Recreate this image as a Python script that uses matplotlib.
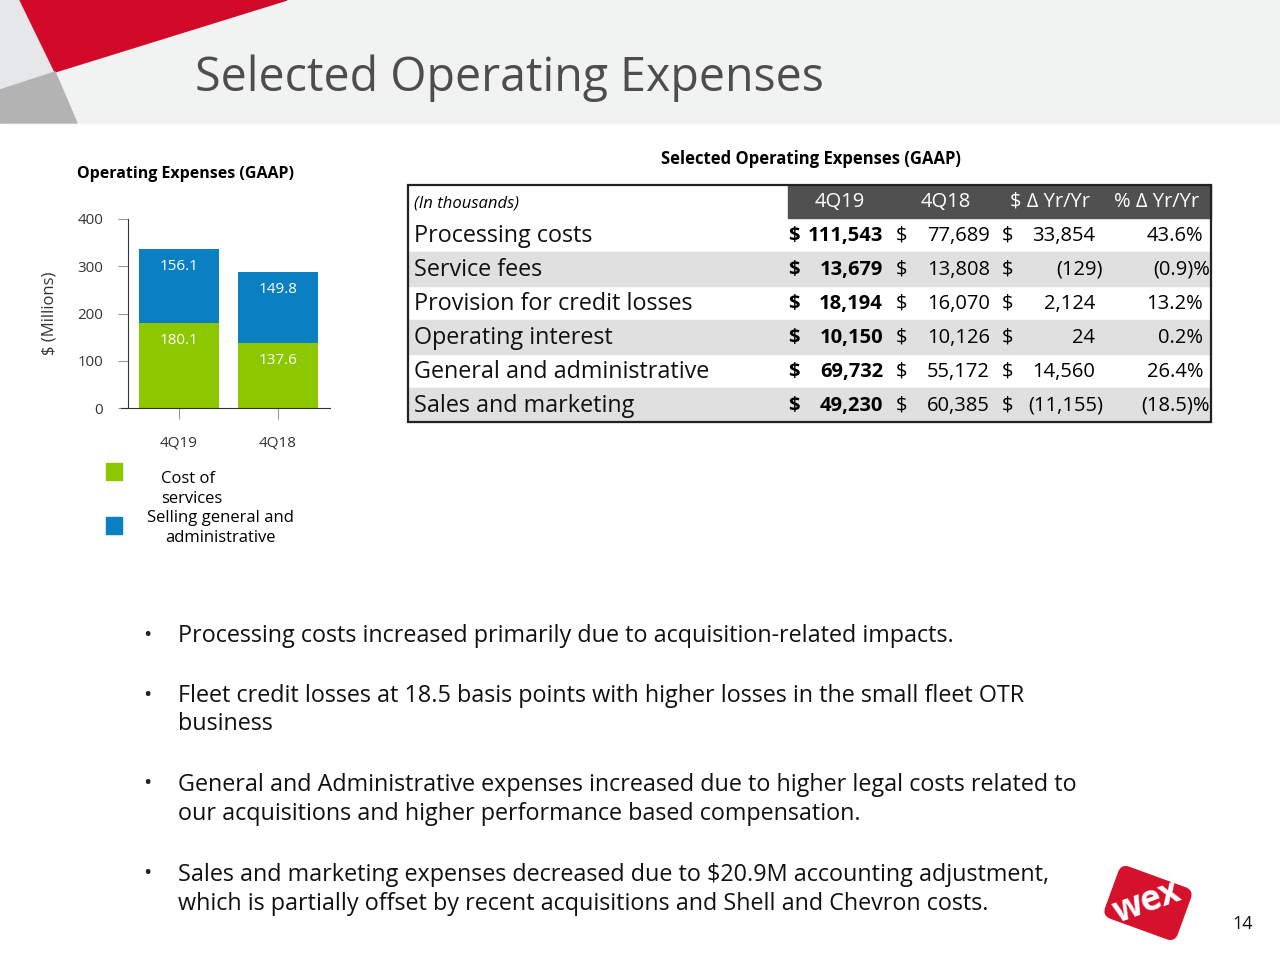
import matplotlib
matplotlib.use("Agg")
import matplotlib.pyplot as plt
from matplotlib.patches import Polygon, Rectangle, FancyBboxPatch
import matplotlib.transforms as mtransforms

plt.rcParams['font.family'] = ['Open Sans', 'DejaVu Sans']

# ---- data ----
quarters = ["4Q19", "4Q18"]
cost_of_services = [180.1, 137.6]
sga = [156.1, 149.8]
series_names = ["Cost of\nservices", "Selling general and\nadministrative"]

row_labels = ["Processing costs", "Service fees", "Provision for credit losses",
              "Operating interest", "General and administrative", "Sales and marketing"]
q419 = ["111,543", "13,679", "18,194", "10,150", "69,732", "49,230"]
q418 = ["77,689", "13,808", "16,070", "10,126", "55,172", "60,385"]
d_abs = ["33,854", "(129)", "2,124", "24", "14,560", "(11,155)"]
d_pct = ["43.6%", "(0.9)%", "13.2%", "0.2%", "26.4%", "(18.5)%"]
col_heads = ["4Q19", "4Q18", "$ \u0394 Yr/Yr", "% \u0394 Yr/Yr"]

bullets = [
    "Processing costs increased primarily due to acquisition-related impacts.",
    "Fleet credit losses at 18.5 basis points with higher losses in the small fleet OTR\nbusiness",
    "General and Administrative expenses increased due to higher legal costs related to\nour acquisitions and higher performance based compensation.",
    "Sales and marketing expenses decreased due to $20.9M accounting adjustment,\nwhich is partially offset by recent acquisitions and Shell and Chevron costs.",
]

GREEN = "#8cc700"
BLUE = "#0a7fc2"
W, H = 1280, 960

fig = plt.figure(figsize=(12.8, 9.6), dpi=100)
bg = fig.add_axes([0, 0, 1, 1])
bg.set_xlim(0, W)
bg.set_ylim(H, 0)
bg.axis("off")

# header band and decoration
bg.add_patch(Rectangle((0, 0), W, 123, color="#f1f2f2", zorder=0))
bg.add_patch(Polygon([(0, 0), (20, 0), (55, 72), (0, 90)], color="#e6e7e8", zorder=1))
bg.add_patch(Polygon([(20, 0), (287, 0), (55, 72)], color="#d20a2a", zorder=1))
bg.add_patch(Polygon([(0, 90), (55, 72), (77, 123), (0, 123)], color="#b3b3b3", zorder=1))
bg.text(195, 78, "Selected Operating Expenses", fontsize=33.5, color="#4d4d4d", va="center")

# ---- bar chart ----
fig_px = lambda x0, y0, x1, y1: [x0 / W, 1 - y1 / H, (x1 - x0) / W, (y1 - y0) / H]
ax = fig.add_axes(fig_px(128, 219, 330, 408))
x = [0, 1]
ax.bar(x, cost_of_services, width=0.81, color=GREEN, zorder=2)
ax.bar(x, sga, width=0.81, bottom=cost_of_services, color=BLUE, zorder=2)
for i in x:
    ax.annotate(f"{cost_of_services[i]:.1f}", (i, cost_of_services[i]), xytext=(0, -7),
                textcoords="offset points", ha="center", va="top", color="white", fontsize=11)
    ax.annotate(f"{sga[i]:.1f}", (i, cost_of_services[i] + sga[i]), xytext=(0, -7),
                textcoords="offset points", ha="center", va="top", color="white", fontsize=11)
ax.set_xlim(-0.515, 1.525)
ax.set_ylim(0, 400)
ax.set_yticks([0, 100, 200, 300, 400])
ax.set_xticks(x)
ax.set_xticklabels(quarters)
ax.tick_params(axis="y", length=7, color="#999999", labelsize=10.8, labelcolor="#333333", pad=11)
ax.tick_params(axis="x", length=8, color="#999999", labelsize=11, labelcolor="#333333", pad=12,
               direction="out")
for s in ["top", "right"]:
    ax.spines[s].set_visible(False)
ax.spines["left"].set_color("#333333")
ax.spines["bottom"].set_color("#333333")
ax.spines["bottom"].set_bounds(-0.59, 1.525)
ax.set_facecolor("none")

bg.text(77, 174, "Operating Expenses (GAAP)", fontsize=11.5, fontweight="bold", va="center")
bg.text(49, 313, "$ (Millions)", fontsize=12, rotation=90, va="center", ha="center", color="#333333")

# legend
bg.add_patch(Rectangle((106, 463), 16, 17, color=GREEN))
bg.add_patch(Rectangle((106, 517), 16, 17, color=BLUE))
bg.text(161, 489, series_names[0], fontsize=12, va="center", ha="left", linespacing=1.4)
bg.text(220, 528, series_names[1], fontsize=12, va="center", ha="center", linespacing=1.4)

# ---- table ----
TL, TR, TTOP, HB, RH = 408, 1211, 185, 218, 34
bg.text(811, 159, "Selected Operating Expenses (GAAP)", fontsize=12, fontweight="bold",
        ha="center", va="center")
bg.add_patch(Rectangle((788, TTOP), TR - 788, HB - TTOP, color="#505050", zorder=1))
for i in range(len(row_labels)):
    if i % 2 == 1:
        bg.add_patch(Rectangle((TL, HB + RH * i), TR - TL, RH, color="#e0e0e0", zorder=1))
bg.add_patch(Rectangle((TL, TTOP), TR - TL, HB + RH * len(row_labels) - TTOP,
                       fill=False, edgecolor="#222222", lw=1.6, zorder=3))
bg.text(414, 204, "(In thousands)", fontsize=12, style="italic", va="center")
head_x = [840, 946, 1050, 1157]
for hx, h in zip(head_x, col_heads):
    bg.text(hx, 202, h, fontsize=14.5, color="white", ha="center", va="center", zorder=4)

for i, lab in enumerate(row_labels):
    yc = HB + RH * i + RH / 2
    bg.text(414, yc + 1, lab, fontsize=16.8, va="center", color="#111111", zorder=4)
    bg.text(788, yc + 1, "$", fontsize=14.5, fontweight="bold", va="center", zorder=4)
    bg.text(883, yc + 1, q419[i], fontsize=14.5, fontweight="bold", va="center", ha="right", zorder=4)
    bg.text(896, yc + 1, "$", fontsize=14.5, va="center", zorder=4)
    bg.text(990, yc + 1, q418[i], fontsize=14.5, va="center", ha="right", zorder=4)
    bg.text(1002, yc + 1, "$", fontsize=14.5, va="center", zorder=4)
    xr = 1103 if d_abs[i].endswith(")") else 1095
    bg.text(xr, yc + 1, d_abs[i], fontsize=14.5, va="center", ha="right", zorder=4)
    xp = 1210 if d_pct[i].endswith(")%") else 1203
    bg.text(xp, yc + 1, d_pct[i], fontsize=14.5, va="center", ha="right", zorder=4)

# ---- bullets ----
bullet_y = [634, 694, 783, 873]
for by, b in zip(bullet_y, bullets):
    bg.text(147, by + 1, "\u2022", fontsize=16, va="center", ha="center", color="#222222")
    bg.text(178, by - 10, b, fontsize=16.8, va="top", color="#111111", linespacing=1.25)

# ---- logo and page number ----
tr = mtransforms.Affine2D().rotate_deg_around(1148, 903, 20) + bg.transData
logo = FancyBboxPatch((1110, 876), 76, 54, boxstyle="round,pad=0,rounding_size=8",
                      color="#d6112b", transform=tr, zorder=5)
bg.add_patch(logo)
bg.text(1147, 903, "wex", fontsize=25, fontweight="bold", color="white", ha="center",
        va="center", rotation=20, zorder=6)
bg.text(1243, 924, "14", fontsize=13, ha="center", va="center", color="#111111")

fig.savefig("out.png", dpi=100)
